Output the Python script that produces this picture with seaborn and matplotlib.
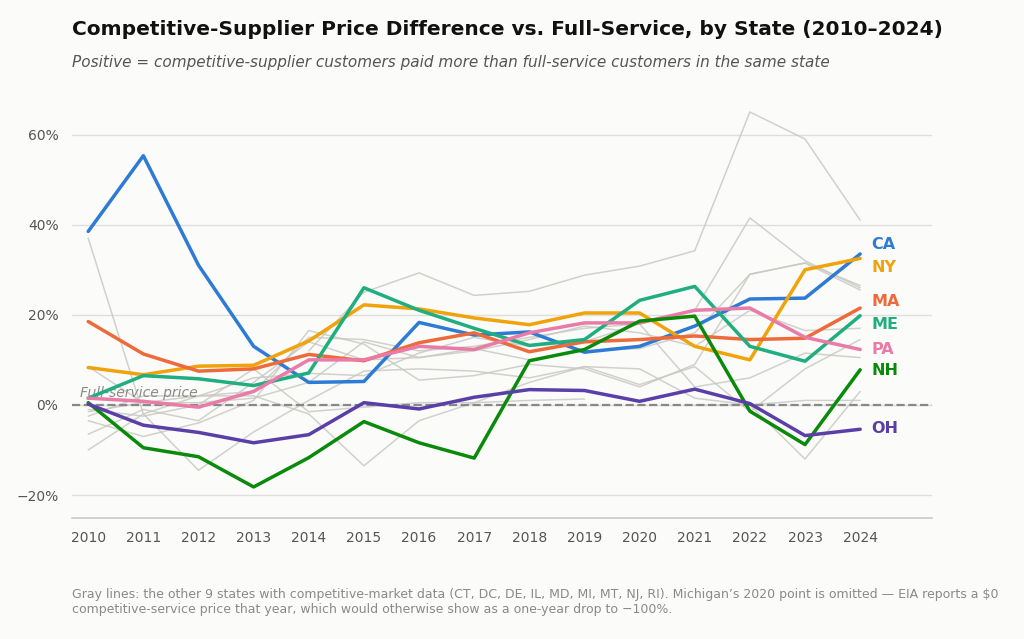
import numpy as np
import pandas as pd
import seaborn as sns
import matplotlib.pyplot as plt
from matplotlib.ticker import FuncFormatter

years = list(range(2010, 2025))

# highlighted states (% difference vs full-service)
ca = [38.5, 55.3, 31.0, 13.0, 5.0, 5.2, 18.3, 15.5, 16.2, 11.7, 13.0, 17.5, 23.5, 23.7, 33.5]
ny = [8.3, 6.7, 8.6, 8.8, 14.2, 22.2, 21.3, 19.3, 17.8, 20.4, 20.4, 13.0, 10.0, 30.0, 32.5]
ma = [18.5, 11.3, 7.5, 8.0, 11.2, 9.8, 13.8, 16.0, 11.8, 14.0, 14.5, 15.3, 14.5, 14.8, 21.5]
me = [1.5, 6.5, 5.8, 4.3, 7.1, 26.0, 21.0, 17.0, 13.2, 14.5, 23.2, 26.3, 13.0, 9.7, 19.8]
pa = [1.5, 0.8, -0.5, 3.0, 10.0, 10.0, 13.0, 12.3, 16.0, 18.2, 18.2, 21.0, 21.5, 15.0, 12.3]
nh = [0.5, -9.5, -11.5, -18.2, -11.7, -3.7, -8.4, -11.8, 9.8, 12.3, 18.6, 19.7, -1.4, -8.8, 7.8]
oh = [0.2, -4.5, -6.1, -8.4, -6.6, 0.5, -0.9, 1.7, 3.4, 3.2, 0.8, 3.5, 0.3, -6.8, -5.4]

# the other 9 states (gray)
ct = [None, None, None, None, 12.0, 25.0, 29.3, 24.3, 25.2, 28.8, 30.8, 34.2, 65.0, 59.0, 41.0]
dc = [37.0, -2.0, 2.0, 3.0, 15.0, 14.5, 12.0, 13.0, 15.0, 17.0, 18.0, 21.0, 41.5, 32.0, 26.0]
de = [-6.5, -1.0, -3.5, 5.0, 14.0, 10.0, 10.5, 12.5, 10.0, 12.0, 12.5, 16.0, 29.0, 31.5, 25.5]
il = [-3.5, -7.0, -4.0, 1.0, 16.5, 13.5, 5.5, 6.5, 9.0, 8.0, 4.0, 9.0, 29.0, 31.5, 26.5]
md = [-10.0, -2.0, -14.5, -6.0, 1.0, 7.5, 8.0, 7.5, 6.0, 8.5, 8.0, 1.5, 0.0, -12.0, 3.0]
mi = [8.5, 0.5, 2.0, 2.0, -2.0, -13.5, -3.5, 0.5, 1.0, 1.3, None, 0.0, 0.0, 1.0, 1.0]
mt = [-1.5, 0.5, 0.5, 1.5, 5.0, 14.0, 10.5, 12.0, 14.5, 17.5, 16.0, 13.0, 21.0, 16.5, 17.0]
nj = [-2.5, 2.0, 2.0, 6.0, 7.0, 6.5, 11.5, 15.0, 13.0, 14.0, 18.0, 4.0, 6.0, 11.5, 10.5]
ri = [-1.0, -2.5, 0.0, 8.0, -1.5, -0.5, 0.5, 0.5, 5.0, 8.5, 4.5, 8.5, -1.5, 8.0, 14.5]

highlight = {"CA": (ca, "#2e7bd6"), "NY": (ny, "#f0a30a"), "MA": (ma, "#ee6a3a"),
             "ME": (me, "#1fae80"), "PA": (pa, "#ea7aa6"), "NH": (nh, "#0a8a0a"),
             "OH": (oh, "#5a3fa8")}
others = {"CT": ct, "DC": dc, "DE": de, "IL": il, "MD": md, "MI": mi, "MT": mt, "NJ": nj, "RI": ri}
label_y = {"CA": 35.5, "NY": 30.5, "MA": 23.0, "ME": 17.8, "PA": 12.3, "NH": 7.7, "OH": -5.3}

sns.set_theme(style="whitegrid")
plt.rcParams['font.family'] = ['DejaVu Sans']
bg = "#fbfbf9"
fig, ax = plt.subplots(figsize=(10.24, 6.39), dpi=100)
fig.patch.set_facecolor(bg)
ax.set_facecolor(bg)

for st, vals in others.items():
    d = pd.DataFrame({"year": years, "v": vals}).astype(float)
    ax.plot(d["year"], d["v"], color="#c9c9c4", lw=1.1, alpha=0.85, zorder=1)

ax.axhline(0, color="#888888", ls="--", lw=1.6, zorder=2)
ax.text(2009.85, 1.0, "Full-service price", color="#8a8a8a", fontsize=10, style="italic", va="bottom")

for st, (vals, col) in highlight.items():
    d = pd.DataFrame({"year": years, "v": vals})
    sns.lineplot(data=d, x="year", y="v", color=col, lw=2.5, ax=ax, zorder=3)
    ax.text(2024.2, label_y[st], st, color=col, fontsize=11.5, fontweight="bold", va="center")

ax.set_xlim(2009.7, 2025.3)
ax.set_ylim(-25, 70)
ax.set_xticks(years)
ax.set_yticks([-20, 0, 20, 40, 60])
ax.yaxis.set_major_formatter(FuncFormatter(lambda v, p: f"{v:.0f}%".replace("-", "\u2212")))
ax.grid(axis="x", visible=False)
ax.grid(axis="y", color="#dedede", lw=1)
for s in ["top", "right", "left"]:
    ax.spines[s].set_visible(False)
ax.spines["bottom"].set_color("#cccccc")
ax.tick_params(colors="#555555", labelsize=10)
ax.set_xlabel("")
ax.set_ylabel("")

fig.text(0.07, 0.945, "Competitive-Supplier Price Difference vs. Full-Service, by State (2010\u20132024)",
         fontsize=14.5, fontweight="bold", color="#111111")
fig.text(0.07, 0.895, "Positive = competitive-supplier customers paid more than full-service customers in the same state",
         fontsize=11, style="italic", color="#555555")
fig.text(0.07, 0.04, "Gray lines: the other 9 states with competitive-market data (CT, DC, DE, IL, MD, MI, MT, NJ, RI). "
         "Michigan\u2019s 2020 point is omitted \u2014 EIA reports a $0\ncompetitive-service price that year, which would "
         "otherwise show as a one-year drop to \u2212100%.", fontsize=9, color="#8a8a8a")

plt.subplots_adjust(left=0.07, right=0.91, top=0.86, bottom=0.19)
plt.savefig("out.png", dpi=100, facecolor=bg)
